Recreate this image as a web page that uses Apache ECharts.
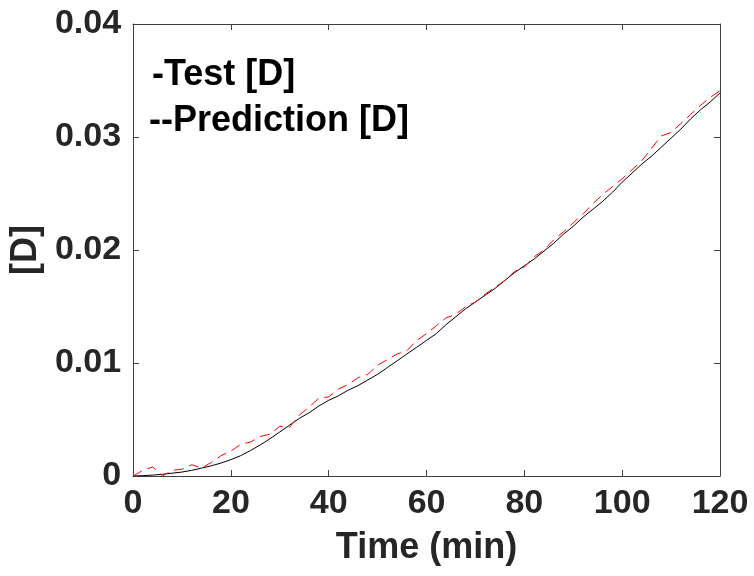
<!DOCTYPE html>
<html>
<head>
<meta charset="utf-8">
<script src="https://cdn.jsdelivr.net/npm/echarts@6/dist/echarts.min.js"></script>
<style>
html,body{margin:0;padding:0;background:#fff;}
#chart{width:754px;height:576px;}
</style>
</head>
<body>
<div id="chart"></div>
<script>
// Time (min)
var timeMin = [0,2,4,6,8,10,12,14,16,18,20,22,24,26,28,30,32,34,36,38,40,42,44,46,48,50,52,54,56,58,60,62,64,66,68,70,72,74,76,78,80,82,84,86,88,90,92,94,96,98,100,102,104,106,108,110,112,114,116,118,120];
// Test [D]
var testD = [0,0.00003,0.00008,0.00015,0.00025,0.00035,0.0005,0.0007,0.0009,0.00115,0.00145,0.0018,0.00225,0.00275,0.0033,0.0039,0.0045,0.0051,0.0056,0.0062,0.0067,0.0071,0.0076,0.0080,0.0085,0.0090,0.0096,0.0102,0.0108,0.0114,0.0120,0.0126,0.0134,0.0141,0.0148,0.0154,0.0160,0.0166,0.0173,0.0180,0.0186,0.0192,0.0199,0.0206,0.0214,0.0221,0.0229,0.0236,0.0243,0.0251,0.0260,0.0268,0.0276,0.0283,0.0291,0.0299,0.0307,0.0316,0.0324,0.0331,0.0339];
// Prediction [D]
var predD = [0,0.0005,0.0008,0.0000,0.0005,0.0006,0.0010,0.0007,0.0012,0.0018,0.0022,0.0028,0.0030,0.0035,0.0037,0.0044,0.0043,0.0054,0.0061,0.0069,0.0070,0.0077,0.0081,0.0087,0.0090,0.0098,0.0103,0.0108,0.0111,0.0120,0.0126,0.0133,0.0140,0.0143,0.0150,0.0154,0.0161,0.0167,0.0173,0.0181,0.0185,0.0194,0.0200,0.0209,0.0216,0.0224,0.0232,0.0241,0.0249,0.0256,0.0263,0.0271,0.0279,0.0290,0.0301,0.0304,0.0312,0.0320,0.0328,0.0335,0.0341];
var xTicks = [0,20,40,60,80,100,120];
var yTicks = [0,0.01,0.02,0.03,0.04];
var legendTexts = ['-Test [D]','--Prediction [D]'];
var xName = 'Time (min)';
var yName = '[D]';

var FONT = '"Liberation Sans", Arial, Helvetica, sans-serif';
var AX = '#404040';
var TXT = '#262626';

function pairs(xs, ys){ return xs.map(function(x,i){ return [x, ys[i]]; }); }

var chart = echarts.init(document.getElementById('chart'), null, {renderer:'canvas'});
var baseX = {
  type:'value', min:xTicks[0], max:xTicks[xTicks.length-1], interval:xTicks[1]-xTicks[0],
  axisLine:{show:true, onZero:false, lineStyle:{color:AX, width:1}},
  axisTick:{show:true, inside:true, length:6, lineStyle:{color:AX}},
  splitLine:{show:false}
};
var baseY = {
  type:'value', min:yTicks[0], max:yTicks[yTicks.length-1], interval:yTicks[1]-yTicks[0],
  axisLine:{show:true, onZero:false, lineStyle:{color:AX, width:1}},
  axisTick:{show:true, inside:true, length:6, lineStyle:{color:AX}},
  splitLine:{show:false}
};
chart.setOption({
  animation:false,
  backgroundColor:'#fff',
  grid:{left:129, top:24, right:34, bottom:100, containLabel:false},
  xAxis:[
    Object.assign({}, baseX, {position:'bottom',
      name:xName, nameLocation:'middle', nameGap:54,
      nameTextStyle:{fontFamily:FONT, fontWeight:'bold', fontSize:36, color:TXT},
      axisLabel:{show:true, margin:11, align:'center', fontFamily:FONT, fontWeight:'bold', fontSize:34, color:TXT,
        hideOverlap:false,
        formatter:function(v){ return String(v); }}}),
    Object.assign({}, baseX, {position:'top', axisLabel:{show:false}})
  ],
  yAxis:[
    Object.assign({}, baseY, {position:'left',
      name:yName, nameLocation:'middle', nameGap:81, nameRotate:90,
      nameTextStyle:{fontFamily:FONT, fontWeight:'bold', fontSize:36, color:TXT},
      axisLabel:{show:true, margin:12, fontFamily:FONT, fontWeight:'bold', fontSize:34, color:TXT,
        formatter:function(v){ return v===0 ? '0' : v.toFixed(2); }}}),
    Object.assign({}, baseY, {position:'right', axisLabel:{show:false}})
  ],
  series:[
    {name:legendTexts[0], type:'line', xAxisIndex:0, yAxisIndex:0, data:pairs(timeMin, testD),
     showSymbol:false, symbol:'none', smooth:false, lineStyle:{color:'#000000', width:1, type:'solid'}, z:3},
    {name:legendTexts[1], type:'line', xAxisIndex:0, yAxisIndex:0, data:pairs(timeMin, predD),
     showSymbol:false, symbol:'none', smooth:false, lineStyle:{color:'#ff0000', width:1, type:[10,6]}, z:4}
  ],
  graphic:[
    {type:'text', left:152, top:57, style:{text:legendTexts[0], fontFamily:FONT, fontWeight:'bold', fontSize:36, fill:'#000'}},
    {type:'text', left:149, top:103, style:{text:legendTexts[1], fontFamily:FONT, fontWeight:'bold', fontSize:36, fill:'#000'}}
  ]
});
</script>
</body>
</html>
